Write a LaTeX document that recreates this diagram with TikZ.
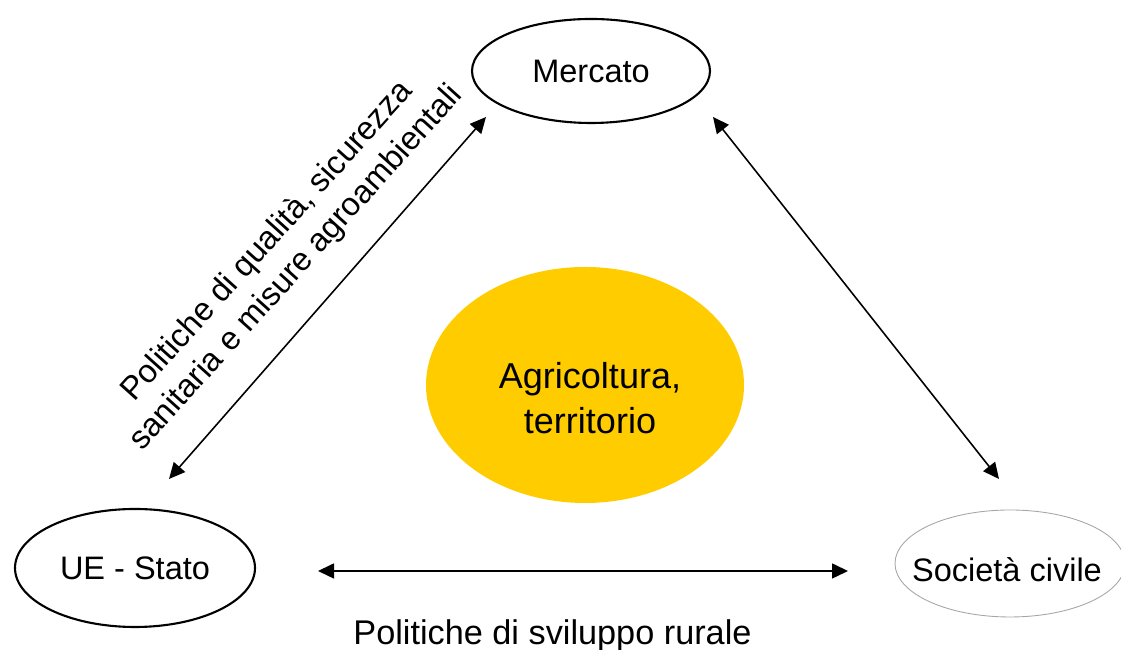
\documentclass[tikz,border=0pt]{standalone}
\usepackage{fontspec}
\setmainfont{Liberation Sans}
\usepackage{xcolor}
\usepackage{tikz}
\usetikzlibrary{shapes.geometric, arrows.meta}

\definecolor{agriyellow}{HTML}{FFCC00}

\begin{document}
	\begin{tikzpicture}[
			actor/.style = {ellipse, draw, line width = 1.2pt, inner sep = 0pt, font = \fontsize{18.5}{22}\selectfont},
			link/.style = {{Triangle[length = 0.32cm, width = 0.3cm]}-{Triangle[length = 0.32cm, width = 0.3cm]}, line width = 0.9pt}
		]
		\useasboundingbox (0,0) rectangle (22.42,13);
		
		\node [actor, minimum width = 4.76cm, minimum height = 2.08cm] (mercato) at (11.82,11.58) {Mercato};
		\node [actor, minimum width = 4.8cm, minimum height = 2.36cm] (ue) at (2.7,1.64) {UE - Stato};
		\node [actor, draw = gray!70, line width = 0.5pt, minimum width = 4.6cm, minimum height = 2.14cm] (societa) at (20.2,1.73) {};
		\node [font = \fontsize{18.5}{22}\selectfont] (societatext) at (20.14,1.6) {Societ\`a civile};
		
		\node [ellipse, fill = agriyellow, minimum width = 6.36cm, minimum height = 4.72cm] (agri) at (11.7,5.3) {};
		\node [align = center, font = \fontsize{20.5}{25.6}\selectfont] (agritext) at (11.8,5.04) {Agricoltura,\\ territorio};
		
		% arrow ends
		\coordinate (ue-up) at (3.38,3.42);
		\coordinate (mercato-left) at (9.72,10.66);
		\coordinate (mercato-right) at (14.26,10.66);
		\coordinate (societa-up) at (19.98,3.42);
		\coordinate (ue-right) at (6.36,1.58);
		\coordinate (societa-left) at (16.96,1.58);
		
		\draw [link] (ue-up) -- (mercato-left);
		\draw [link] (mercato-right) -- (societa-up);
		\draw [link] (ue-right) -- (societa-left);
		
		\node [align = center, rotate = 48, font = \fontsize{18.5}{22.5}\selectfont] (qualita) at (5.64,7.9) {Politiche di qualit\`a, sicurezza\\sanitaria e misure agroambientali};
		\node [anchor = base, font = \fontsize{19.5}{23}\selectfont] (rurale) at (11.05,0.1) {Politiche di sviluppo rurale};
	\end{tikzpicture}
\end{document}
